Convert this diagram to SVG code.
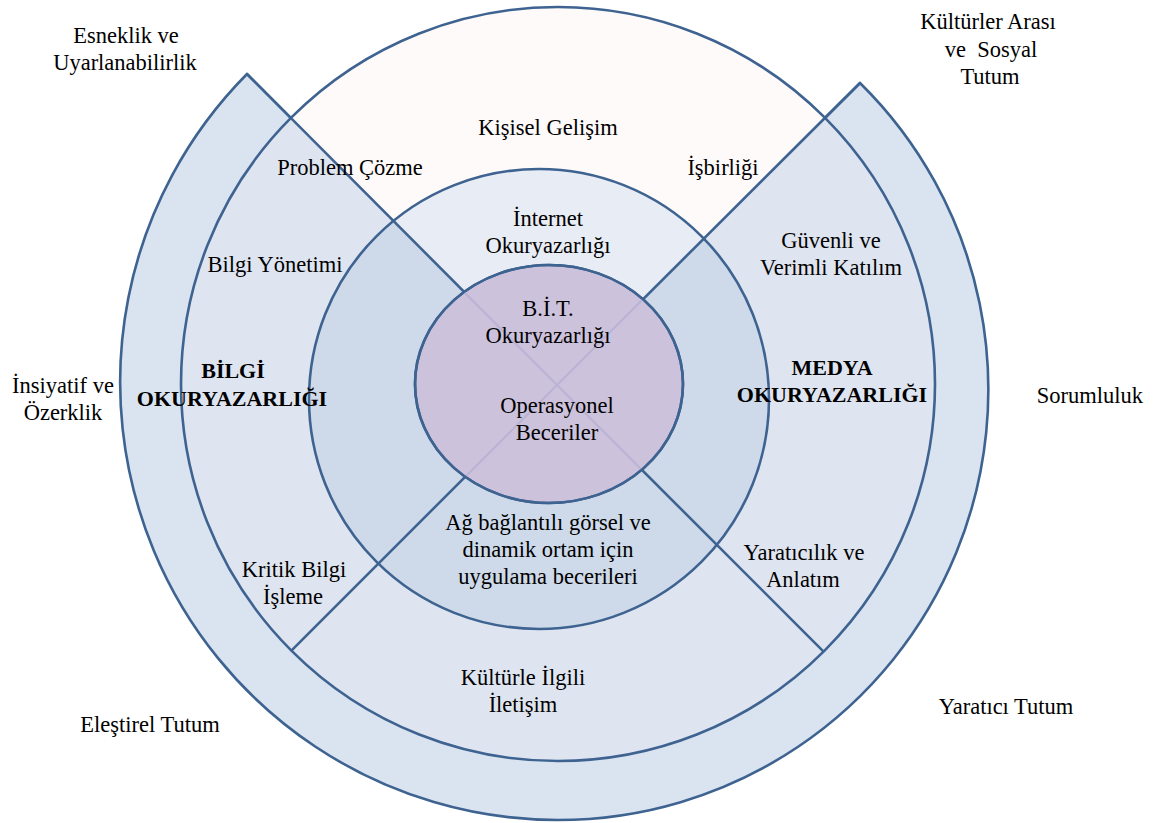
<svg xmlns="http://www.w3.org/2000/svg" width="1160" height="823" viewBox="0 0 1160 823">
  <style>
    .edge { stroke: #3e6391; stroke-width: 2.6; stroke-linejoin: miter; }
    .nofill { fill: none; }
    .lbl { font-size: 22.5px; fill: #000; text-anchor: middle; }
    .bold { font-weight: bold; font-size: 22px; }
    .faint { stroke: #bbb3d4; stroke-width: 2.2; fill: none; }
  </style>
  <defs>
    <clipPath id="coreClip">
      <ellipse cx="549" cy="384" rx="134" ry="119"/>
    </clipPath>
  </defs>

  <rect width="1160" height="823" fill="#ffffff"/>

  <!-- outer attitude band, open at the top -->
  <g id="attitude-band">
    <path class="edge" fill="#dae3f0" d="M557,385 L247,74 A437.8 437.8 0 0 0 558,820 A430.4 430.4 0 0 0 860,83 Z"/>
  </g>

  <!-- skills ring -->
  <g id="skills-ring">
    <circle cx="558" cy="384" r="377" fill="#dfe5f0"/>
    <path fill="#fefafa" d="M557,385 L290.4,118.4 A377 377 0 0 1 824.6,117.4 Z"/>
    <circle class="edge nofill" cx="558" cy="384" r="377"/>
  </g>

  <!-- literacy ring -->
  <g id="literacy-ring">
    <circle cx="539" cy="399" r="230" fill="#cedaea"/>
    <path fill="#e8ecf5" d="M557,385 L393.2,221.2 A230 230 0 0 1 703.6,238.4 Z"/>
    <circle class="edge nofill" cx="539" cy="399" r="230"/>
  </g>

  <!-- diagonal dividers -->
  <g id="connectors">
    <line class="edge" x1="247" y1="74" x2="557" y2="385"/>
    <line class="edge" x1="860" y1="83" x2="557" y2="385"/>
    <line class="edge" x1="291.4" y1="650.6" x2="557" y2="385"/>
    <line class="edge" x1="823.6" y1="651.6" x2="557" y2="385"/>
  </g>

  <!-- ICT core -->
  <g id="core">
    <ellipse class="edge" cx="549" cy="384" rx="134" ry="119" fill="#cdc2dc"/>
    <g clip-path="url(#coreClip)">
      <line class="faint" x1="440" y1="268" x2="674" y2="502"/>
      <line class="faint" x1="670" y1="272" x2="444" y2="498"/>
    </g>
    <ellipse class="edge nofill" cx="549" cy="384" rx="134" ry="119"/>
  </g>

  <g font-family="Liberation Serif, Tinos, Times New Roman, DejaVu Serif, serif">
  <!-- outer attitudes -->
  <g id="label-esneklik">
    <text class="lbl" x="126" y="43">Esneklik ve</text>
    <text class="lbl" x="125" y="70">Uyarlanabilirlik</text>
  </g>
  <g id="label-kulturler">
    <text class="lbl" x="988" y="29">Kültürler Arası</text>
    <text class="lbl" x="991" y="57" style="white-space:pre">ve  Sosyal</text>
    <text class="lbl" x="990" y="84">Tutum</text>
  </g>
  <g id="label-insiyatif">
    <text class="lbl" x="63" y="393">İnsiyatif ve</text>
    <text class="lbl" x="63" y="420">Özerklik</text>
  </g>
  <g id="label-sorumluluk">
    <text class="lbl" x="1090" y="403">Sorumluluk</text>
  </g>
  <g id="label-elestirel">
    <text class="lbl" x="150" y="732">Eleştirel Tutum</text>
  </g>
  <g id="label-yaratici-tutum">
    <text class="lbl" x="1006" y="714">Yaratıcı Tutum</text>
  </g>

  <!-- skills ring labels -->
  <g id="label-kisisel">
    <text class="lbl" x="548" y="135">Kişisel Gelişim</text>
  </g>
  <g id="label-problem">
    <text class="lbl" x="350" y="175">Problem Çözme</text>
  </g>
  <g id="label-isbirligi">
    <text class="lbl" x="723" y="175">İşbirliği</text>
  </g>
  <g id="label-bilgi-yonetimi">
    <text class="lbl" x="275" y="272">Bilgi Yönetimi</text>
  </g>
  <g id="label-guvenli">
    <text class="lbl" x="831" y="248">Güvenli ve</text>
    <text class="lbl" x="831" y="275">Verimli Katılım</text>
  </g>
  <g id="label-bilgi-okuryazarligi">
    <text class="lbl bold" x="233" y="378">BİLGİ</text>
    <text class="lbl bold" x="232" y="406">OKURYAZARLIĞI</text>
  </g>
  <g id="label-medya-okuryazarligi">
    <text class="lbl bold" x="832" y="375">MEDYA</text>
    <text class="lbl bold" x="832" y="402">OKURYAZARLIĞI</text>
  </g>
  <g id="label-kritik">
    <text class="lbl" x="294" y="577">Kritik Bilgi</text>
    <text class="lbl" x="293" y="604">İşleme</text>
  </g>
  <g id="label-yaraticilik">
    <text class="lbl" x="804" y="560">Yaratıcılık ve</text>
    <text class="lbl" x="803" y="587">Anlatım</text>
  </g>
  <g id="label-kulturle">
    <text class="lbl" x="523" y="685">Kültürle İlgili</text>
    <text class="lbl" x="523" y="712">İletişim</text>
  </g>

  <!-- literacy ring labels -->
  <g id="label-internet">
    <text class="lbl" x="548" y="226">İnternet</text>
    <text class="lbl" x="548" y="253">Okuryazarlığı</text>
  </g>
  <g id="label-ag">
    <text class="lbl" x="548" y="530">Ağ bağlantılı görsel ve</text>
    <text class="lbl" x="548" y="557">dinamik ortam için</text>
    <text class="lbl" x="548" y="584">uygulama becerileri</text>
  </g>

  <!-- core labels -->
  <g id="label-bit">
    <text class="lbl" x="548" y="316">B.İ.T.</text>
    <text class="lbl" x="548" y="343">Okuryazarlığı</text>
  </g>
  <g id="label-operasyonel">
    <text class="lbl" x="557" y="413">Operasyonel</text>
    <text class="lbl" x="557" y="440">Beceriler</text>
  </g>
  </g>
</svg>
